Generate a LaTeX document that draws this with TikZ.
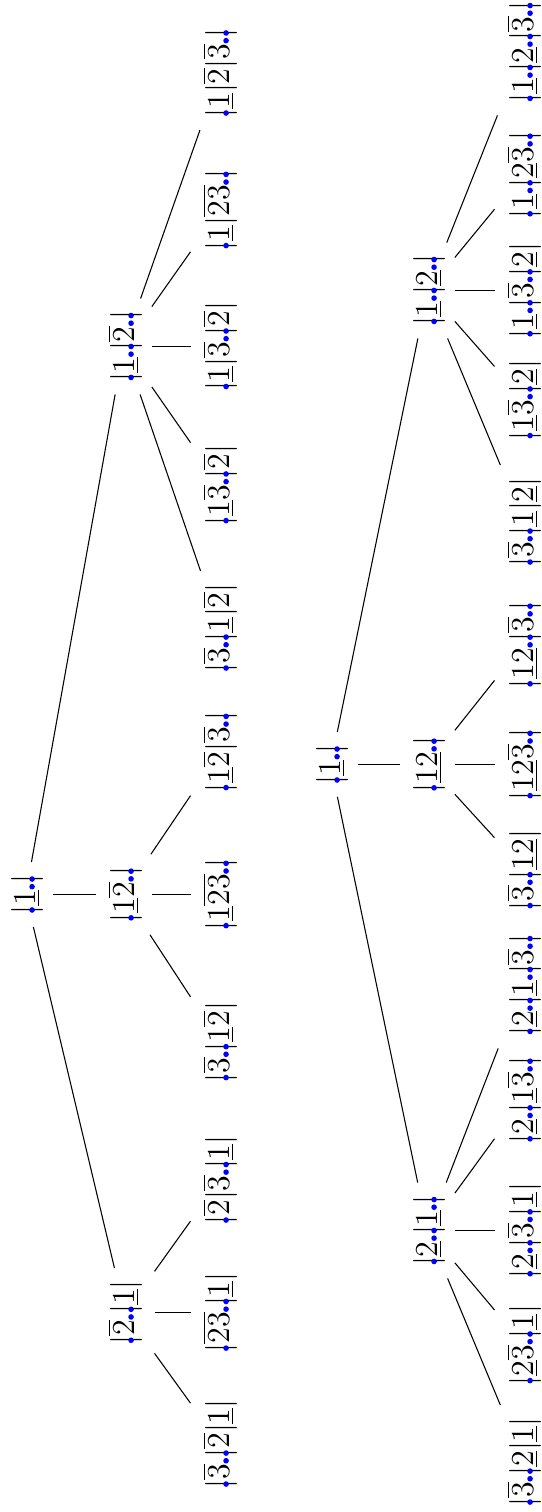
\documentclass[tikz,border=0pt]{standalone}
\usepackage{xcolor}
\definecolor{dotblue}{RGB}{0,0,255}

% blue marker dot, zero width
\newcommand\mkdot{\tikz[baseline=0pt]\fill[dotblue] (0pt,1.1pt) circle[radius=1.05pt];}
\newcommand\Dt{\makebox[0pt]{\mkdot}}
% bar carrying a dot
\newcommand\SepD{\mbox{\ooalign{$\vert$\cr\hfil\Dt\hfil\cr}}}
% dot between an entry and the next bar
\newcommand\Gp{\hspace{1.2pt}\Dt\hspace{1.2pt}}
% entries
\newcommand\Un[1]{\underline{#1}}
\newcommand\Ov[1]{\overline{#1}}
% bars
\newcommand\Lb{\SepD}
\newcommand\Mb{\vert}
\newcommand\MbD{\Gp\SepD}
\newcommand\Rb{\vert}
\newcommand\RbD{\Gp\SepD}

\tikzset{
  lbl/.style={rotate=90, anchor=base, inner sep=4.5pt, font=\fontsize{12}{14}\selectfont},
  edge/.style={line width=0.4pt, black}
}
\newcommand\lab[4]{\node[lbl] (#1) at (#2,#3) {$#4$};}

\begin{document}
\begin{tikzpicture}[x=0.375pt,y=-0.375pt]
\useasboundingbox (0,0) rectangle (541,1512);

% first tree
\lab{r1}{35}{894.5}{\Lb\Un1\RbD}
\lab{a}{134}{1312.5}{\Lb\Ov2\MbD\Un1\Rb}
\lab{b}{134}{894.5}{\Lb\Un1\Ov2\RbD}
\lab{c}{134}{346.5}{\Lb\Un1\MbD\Ov2\RbD}
\lab{a1}{229}{1444}{\Lb\Ov3\MbD\Ov2\Mb\Un1\Rb}
\lab{a2}{229}{1312.5}{\Lb\Ov2\Ov3\MbD\Un1\Rb}
\lab{a3}{229}{1180}{\Lb\Ov2\Mb\Ov3\MbD\Un1\Rb}
\lab{b1}{229}{1042}{\Lb\Ov3\MbD\Un1\Ov2\Rb}
\lab{b2}{229}{894.5}{\Lb\Un1\Ov2\Ov3\RbD}
\lab{b3}{229}{752}{\Lb\Un1\Ov2\Mb\Ov3\RbD}
\lab{c1}{229}{628}{\Lb\Ov3\MbD\Un1\Mb\Ov2\Rb}
\lab{c2}{229}{485}{\Lb\Un1\Ov3\MbD\Ov2\Rb}
\lab{c3}{229}{346.5}{\Lb\Un1\Mb\Ov3\MbD\Ov2\Rb}
\lab{c4}{229}{210}{\Lb\Un1\Mb\Ov2\Ov3\RbD}
\lab{c5}{229}{73}{\Lb\Un1\Mb\Ov2\Mb\Ov3\RbD}

\foreach \p/\q in {r1/a,r1/b,r1/c,a/a1,a/a2,a/a3,b/b1,b/b2,b/b3,c/c1,c/c2,c/c3,c/c4,c/c5}
  \draw[edge] (\p) -- (\q);

% second tree
\lab{r2}{340}{764.5}{\Lb\Un1\RbD}
\lab{d}{437}{1230.5}{\Lb\Un2\MbD\Un1\RbD}
\lab{e}{437}{764.5}{\Lb\Un1\Un2\RbD}
\lab{f}{437}{290.5}{\Lb\Un1\MbD\Un2\RbD}
\lab{d1}{533}{1462}{\Lb\Ov3\MbD\Un2\Mb\Un1\Rb}
\lab{d2}{533}{1345}{\Lb\Un2\Ov3\MbD\Un1\Rb}
\lab{d3}{533}{1230.5}{\Lb\Un2\MbD\Ov3\MbD\Un1\Rb}
\lab{d4}{533}{1100}{\Lb\Un2\MbD\Un1\Ov3\RbD}
\lab{d5}{533}{985}{\Lb\Un2\MbD\Un1\MbD\Ov3\RbD}
\lab{e1}{533}{870}{\Lb\Ov3\MbD\Un1\Un2\Rb}
\lab{e2}{533}{764.5}{\Lb\Un1\Un2\Ov3\RbD}
\lab{e3}{533}{645}{\Lb\Un1\Un2\MbD\Ov3\RbD}
\lab{f1}{533}{522}{\Lb\Ov3\MbD\Un1\Mb\Un2\Rb}
\lab{f2}{533}{400}{\Lb\Un1\Ov3\MbD\Un2\Rb}
\lab{f3}{533}{290.5}{\Lb\Un1\MbD\Ov3\MbD\Un2\Rb}
\lab{f4}{533}{175}{\Lb\Un1\MbD\Un2\Ov3\RbD}
\lab{f5}{533}{52}{\Lb\Un1\MbD\Un2\MbD\Ov3\RbD}

\foreach \p/\q in {r2/d,r2/e,r2/f,d/d1,d/d2,d/d3,d/d4,d/d5,e/e1,e/e2,e/e3,f/f1,f/f2,f/f3,f/f4,f/f5}
  \draw[edge] (\p) -- (\q);
\end{tikzpicture}
\end{document}
